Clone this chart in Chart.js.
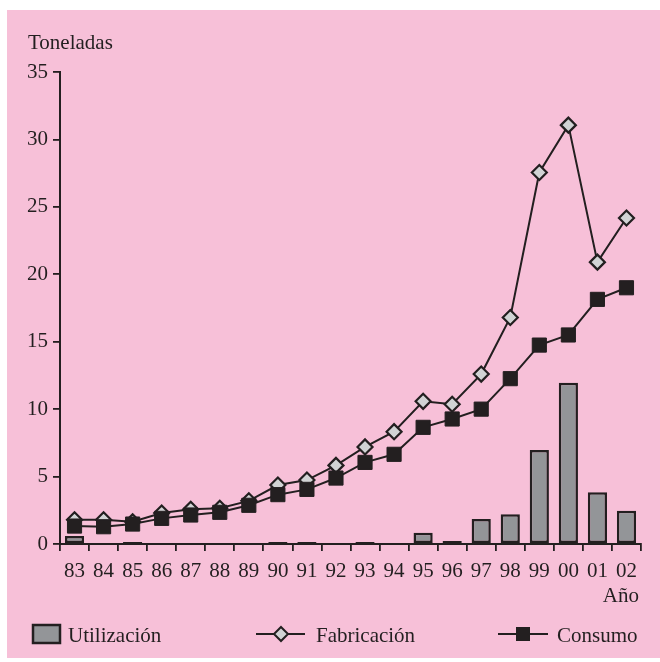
<!DOCTYPE html>
<html>
<head>
<meta charset="utf-8">
<script src="https://cdn.jsdelivr.net/npm/chart.js@4.4.1/dist/chart.umd.min.js"></script>
<style>
  html, body { margin: 0; padding: 0; background: #fff; }
  #wrap { position: relative; width: 660px; height: 662px; }
</style>
</head>
<body>
<div id="wrap"><canvas id="chart" width="660" height="662"></canvas></div>
<script>
// --- data ---
const years = ['83', '84', '85', '86', '87', '88', '89', '90', '91', '92',
               '93', '94', '95', '96', '97', '98', '99', '00', '01', '02'];
const utilizacion = [0.6, 0, 0.15, 0, 0, 0, 0, 0.15, 0.15, 0,
                     0.15, 0, 0.84, 0.22, 1.85, 2.2, 6.97, 11.96, 3.83, 2.47];
const fabricacion = [1.8, 1.8, 1.65, 2.3, 2.57, 2.65, 3.2, 4.37, 4.74, 5.83,
                     7.2, 8.33, 10.58, 10.36, 12.6, 16.8, 27.55, 31.06, 20.9, 24.17];
const consumo = [1.33, 1.28, 1.48, 1.9, 2.15, 2.35, 2.87, 3.66, 4.05, 4.89,
                 6.05, 6.65, 8.65, 9.27, 10.0, 12.26, 14.75, 15.5, 18.14, 19.0];
const yTicks = [0, 5, 10, 15, 20, 25, 30, 35];

const INK = '#231f20';
const PINK = '#f7c0d8';
const BAR_GRAY = '#939598';
const DIAMOND_GRAY = '#d1d3d4';
const FONT = "'Liberation Serif', 'DejaVu Serif', serif";
const FS = 21;

// background panel + extra texts + legend
const decor = {
  id: 'decor',
  beforeDraw(chart) {
    const ctx = chart.ctx;
    ctx.save();
    ctx.fillStyle = '#ffffff';
    ctx.fillRect(0, 0, chart.width, chart.height);
    ctx.fillStyle = PINK;
    ctx.fillRect(7, 10, chart.width - 7, 648);
    ctx.restore();
  },
  afterDraw(chart) {
    const ctx = chart.ctx;
    ctx.save();
    ctx.fillStyle = INK;
    ctx.font = FS + 'px ' + FONT;
    ctx.textBaseline = 'alphabetic';
    ctx.textAlign = 'left';
    ctx.fillText('Toneladas', 28, 49);
    ctx.textAlign = 'right';
    ctx.fillText('Año', 639, 602);

    // legend
    const ds = chart.data.datasets;
    const ly = 634;
    ctx.textAlign = 'left';
    ctx.lineWidth = 2.5;
    ctx.strokeStyle = INK;

    // bar item
    ctx.fillStyle = ds[0].backgroundColor;
    ctx.fillRect(33, 625, 27, 18);
    ctx.strokeRect(33, 625, 27, 18);
    ctx.fillStyle = INK;
    ctx.fillText(ds[0].label, 68, 642);

    // Fabricación item
    ctx.lineWidth = 2;
    ctx.beginPath(); ctx.moveTo(256, ly); ctx.lineTo(305, ly); ctx.stroke();
    ctx.fillStyle = ds[1].pointBackgroundColor;
    ctx.beginPath();
    ctx.moveTo(281, ly - 7); ctx.lineTo(288, ly); ctx.lineTo(281, ly + 7); ctx.lineTo(274, ly);
    ctx.closePath(); ctx.fill(); ctx.stroke();
    ctx.fillStyle = INK;
    ctx.fillText(ds[1].label, 316, 642);

    // Consumo item
    ctx.beginPath(); ctx.moveTo(498, ly); ctx.lineTo(548, ly); ctx.stroke();
    ctx.fillStyle = ds[2].pointBackgroundColor;
    ctx.fillRect(516, ly - 7, 14, 14);
    ctx.fillStyle = INK;
    ctx.fillText(ds[2].label, 557, 642);
    ctx.restore();
  }
};

new Chart(document.getElementById('chart'), {
  data: {
    labels: years,
    datasets: [
      {
        type: 'bar',
        label: 'Utilización',
        data: utilizacion,
        backgroundColor: BAR_GRAY,
        borderColor: INK,
        borderWidth: 2.5,
        borderSkipped: false,
        barPercentage: 0.66,
        categoryPercentage: 1,
        order: 3
      },
      {
        type: 'line',
        label: 'Fabricación',
        data: fabricacion,
        borderColor: INK,
        borderWidth: 2,
        tension: 0,
        pointStyle: 'rectRot',
        pointRadius: 7.5,
        pointBorderWidth: 2.2,
        pointBorderColor: INK,
        pointBackgroundColor: DIAMOND_GRAY,
        order: 2
      },
      {
        type: 'line',
        label: 'Consumo',
        data: consumo,
        borderColor: INK,
        borderWidth: 2,
        tension: 0,
        pointStyle: 'rect',
        pointRadius: 10,
        pointBorderWidth: 1,
        pointBorderColor: INK,
        pointBackgroundColor: INK,
        order: 1
      }
    ]
  },
  options: {
    responsive: false,
    animation: false,
    layout: { padding: { left: 0, top: 72, right: 19, bottom: 57 } },
    plugins: {
      legend: { display: false },
      tooltip: { enabled: false }
    },
    scales: {
      x: {
        offset: true,
        afterFit: s => { s.height = 61; },
        grid: {
          offset: true,
          drawOnChartArea: false,
          drawTicks: true,
          tickLength: 7,
          color: INK,
          lineWidth: 1.8
        },
        border: { display: true, color: INK, width: 2 },
        ticks: {
          color: INK,
          font: { family: FONT, size: FS },
          padding: 8,
          maxRotation: 0,
          autoSkip: false
        }
      },
      y: {
        min: 0,
        max: 35,
        afterFit: s => { s.width = 60; },
        afterBuildTicks: s => { s.ticks = yTicks.map(v => ({ value: v })); },
        grid: {
          drawOnChartArea: false,
          drawTicks: true,
          tickLength: 7,
          color: INK,
          lineWidth: 1.8
        },
        border: { display: true, color: INK, width: 2 },
        ticks: {
          color: INK,
          font: { family: FONT, size: FS },
          padding: 5
        }
      }
    }
  },
  plugins: [decor]
});
</script>
</body>
</html>
